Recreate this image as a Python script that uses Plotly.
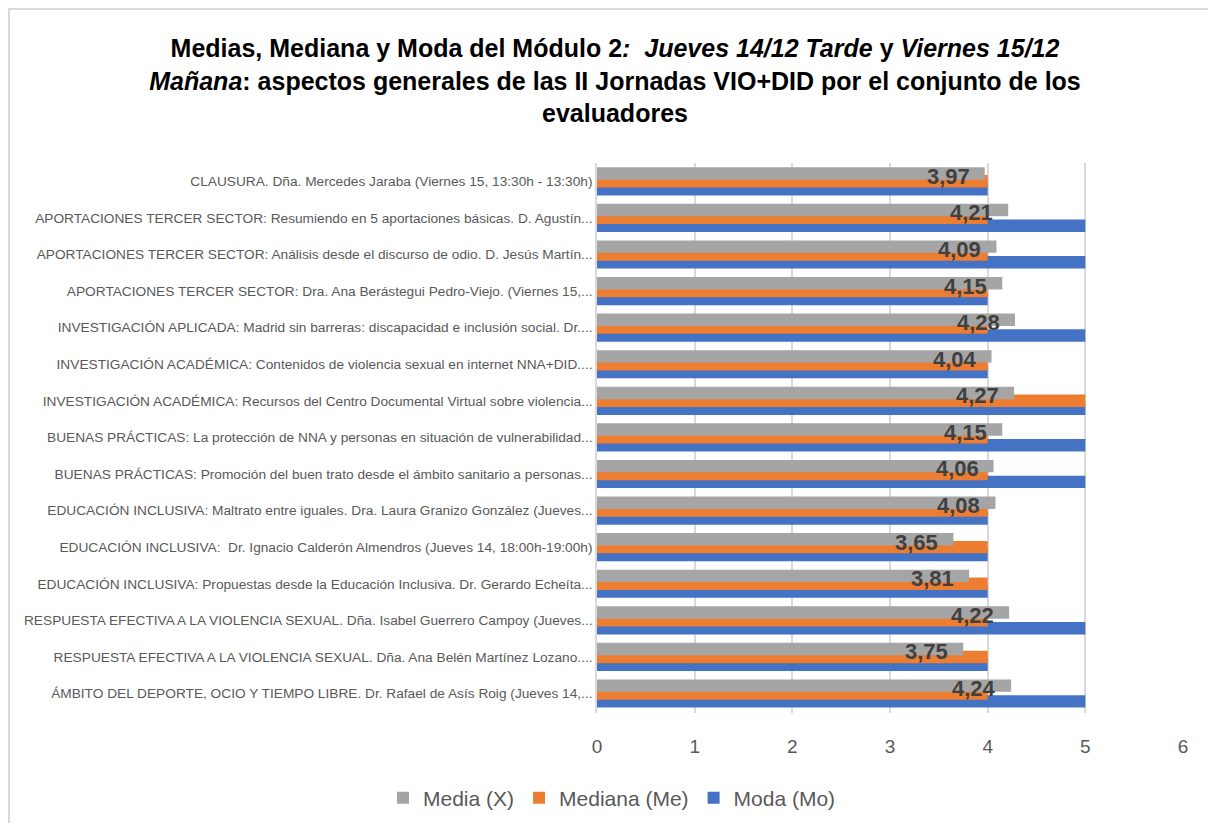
import plotly.graph_objects as go

categorias = [
    "CLAUSURA. Dña. Mercedes Jaraba (Viernes 15, 13:30h - 13:30h)",
    "APORTACIONES TERCER SECTOR: Resumiendo en 5 aportaciones básicas. D. Agustín...",
    "APORTACIONES TERCER SECTOR: Análisis desde el discurso de odio. D. Jesús Martín...",
    "APORTACIONES TERCER SECTOR: Dra. Ana Berástegui Pedro-Viejo. (Viernes 15,...",
    "INVESTIGACIÓN APLICADA: Madrid sin barreras: discapacidad e inclusión social. Dr....",
    "INVESTIGACIÓN ACADÉMICA: Contenidos de violencia sexual en internet NNA+DID....",
    "INVESTIGACIÓN ACADÉMICA: Recursos del Centro Documental Virtual sobre violencia...",
    "BUENAS PRÁCTICAS: La protección de NNA y personas en situación de vulnerabilidad...",
    "BUENAS PRÁCTICAS: Promoción del buen trato desde el ámbito sanitario a personas...",
    "EDUCACIÓN INCLUSIVA: Maltrato entre iguales. Dra. Laura Granizo González (Jueves...",
    "EDUCACIÓN INCLUSIVA:  Dr. Ignacio Calderón Almendros (Jueves 14, 18:00h-19:00h)",
    "EDUCACIÓN INCLUSIVA: Propuestas desde la Educación Inclusiva. Dr. Gerardo Echeíta...",
    "RESPUESTA EFECTIVA A LA VIOLENCIA SEXUAL. Dña. Isabel Guerrero Campoy (Jueves...",
    "RESPUESTA EFECTIVA A LA VIOLENCIA SEXUAL. Dña. Ana Belén Martínez Lozano....",
    "ÁMBITO DEL DEPORTE, OCIO Y TIEMPO LIBRE. Dr. Rafael de Asís Roig (Jueves 14,...",
]
media = [3.97, 4.21, 4.09, 4.15, 4.28, 4.04, 4.27, 4.15, 4.06, 4.08, 3.65, 3.81, 4.22, 3.75, 4.24]
mediana = [4, 4, 4, 4, 4, 4, 5, 4, 4, 4, 4, 4, 4, 4, 4]
moda = [4, 5, 5, 4, 5, 4, 5, 5, 5, 4, 4, 4, 5, 4, 5]
x_ticks = [0, 1, 2, 3, 4, 5, 6]

GRAY = "#A5A5A5"
ORANGE = "#ED7D31"
BLUE = "#4472C4"
FONT = "Liberation Sans"

# page body has an 8px margin; figure is sized to fit the window
FW, FH = 1200, 815
PL, PR, PT, PB = 589, 25, 155, 110

W = 0.34
fig = go.Figure()
# drawn bottom-up so the gray bar sits on top
fig.add_trace(go.Bar(y=categorias, x=moda, name="Moda (Mo)", orientation="h",
                     marker=dict(color=BLUE, line=dict(width=0)), width=W, offset=0.045))
fig.add_trace(go.Bar(y=categorias, x=mediana, name="Mediana (Me)", orientation="h",
                     marker=dict(color=ORANGE, line=dict(width=0)), width=W, offset=-0.17))
fig.add_trace(go.Bar(y=categorias, x=media, name="Media (X)", orientation="h",
                     marker=dict(color=GRAY, line=dict(width=0)), width=W, offset=-0.385))

annotations = []
for c, v in zip(categorias, media):
    annotations.append(dict(
        x=v, y=c, xref="x", yref="y", text=f"{v:.2f}".replace(".", ","),
        showarrow=False, xanchor="right", yanchor="middle", xshift=-13, yshift=5,
        font=dict(family=FONT, size=22, color="#404040", weight="bold"),
    ))

plot_w = FW - PL - PR
plot_h = FH - PT - PB


def px_x(v):
    return (v - PL) / plot_w


def px_y(v):
    return (FH - PB - v) / plot_h


border = dict(color="#D9D9D9", width=2)
shapes = [
    dict(type="line", xref="paper", yref="paper", x0=px_x(0), x1=px_x(FW), y0=px_y(1), y1=px_y(1),
         line=border, layer="below"),
    dict(type="line", xref="paper", yref="paper", x0=px_x(1), x1=px_x(1), y0=px_y(1), y1=px_y(FH),
         line=border, layer="below"),
]

fig.update_layout(
    width=FW, height=FH,
    barmode="overlay",
    separators=",.",
    paper_bgcolor="white", plot_bgcolor="white",
    margin=dict(l=PL, r=PR, t=PT, b=PB, autoexpand=False),
    title=dict(
        text="Medias, Mediana y Moda del Módulo 2<i>:  Jueves 14/12 Tarde </i>y<i> Viernes 15/12</i><br>"
             "<i>Mañana</i>: aspectos generales de las II Jornadas VIO+DID por el conjunto de los<br>evaluadores",
        x=607 / FW, xanchor="center", xref="container",
        y=1 - 49 / FH, yanchor="top", yref="container",
        font=dict(family=FONT, size=25, color="black", weight="bold"),
    ),
    legend=dict(
        orientation="h", traceorder="reversed",
        x=604 / FW, xanchor="center", xref="container",
        y=1 - 790 / FH, yanchor="middle", yref="container",
        font=dict(family=FONT, size=21, color="#595959"),
        itemwidth=30,
    ),
    xaxis=dict(
        range=[0, 6], tickvals=x_ticks, showgrid=True, gridcolor="#D9D9D9", gridwidth=1.5,
        zeroline=False, showline=False,
        ticks="outside", ticklen=16, tickcolor="rgba(0,0,0,0)",
        tickfont=dict(family=FONT, size=19, color="#595959"),
        fixedrange=True,
    ),
    yaxis=dict(
        autorange="reversed", type="category",
        showline=True, linecolor="#D9D9D9", linewidth=1.5,
        showgrid=False, ticks="", ticklen=0,
        tickfont=dict(family=FONT, size=13.7, color="#595959"),
        fixedrange=True,
    ),
    annotations=annotations,
    shapes=shapes,
)

fig.write_html("out.html")
